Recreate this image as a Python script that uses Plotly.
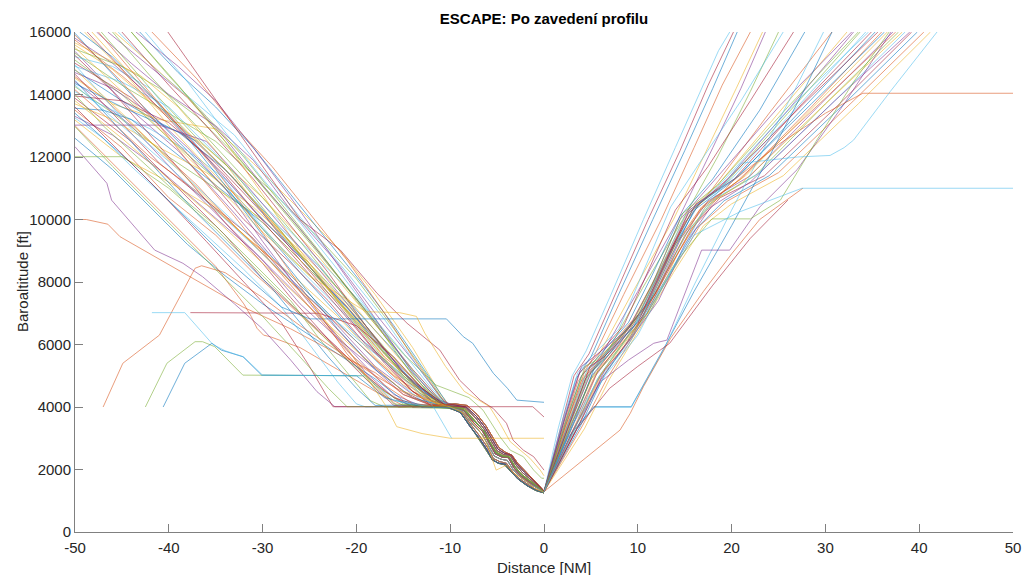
import plotly.graph_objects as go

# MATLAB default colour order
line_colors = ['#0072BD', '#D95319', '#EDB120', '#7E2F8E', '#77AC30', '#4DBEEE', '#A2142F']

# ---------------- data (distance [NM], baroaltitude [ft]) ----------------
# final-approach segments read from the dense bundle (upper edge .. lower edge)
tail_1 = [[-9.5, 4100], [-8.2, 4050], [-7.1, 3750], [-6.2, 3400], [-5.4, 3000], [-4.8, 2700], [-4.1, 2550],
          [-3.4, 2450], [-2.8, 2200], [-2.0, 1950], [-1.1, 1700], [-0.5, 1480], [0, 1310]]
tail_2 = [[-10, 4050], [-8.4, 3980], [-7.3, 3650], [-6.4, 3300], [-5.6, 2900], [-5.0, 2600], [-4.3, 2480],
          [-3.6, 2450], [-3.0, 2150], [-2.3, 1900], [-1.3, 1650], [-0.6, 1460], [0, 1300]]
tail_3 = [[-10, 4020], [-8.5, 3950], [-7.4, 3580], [-6.5, 3250], [-5.7, 2850], [-5.1, 2560], [-4.4, 2440],
          [-3.7, 2410], [-3.1, 2100], [-2.4, 1850], [-1.4, 1620], [-0.6, 1440], [0, 1295]]
tail_4 = [[-10, 4000], [-8.6, 3900], [-7.5, 3500], [-6.5, 3200], [-5.8, 2800], [-5.2, 2500], [-4.5, 2400],
          [-3.8, 2380], [-3.2, 2050], [-2.5, 1800], [-1.5, 1580], [-0.7, 1420], [0, 1290]]
tail_5 = [[-10, 3990], [-8.7, 3870], [-7.6, 3450], [-6.6, 3130], [-5.9, 2750], [-5.3, 2430], [-4.6, 2330],
          [-3.9, 2290], [-3.3, 2000], [-2.5, 1750], [-1.5, 1540], [-0.7, 1390], [0, 1280]]
tail_6 = [[-10, 4000], [-8.8, 3850], [-7.7, 3400], [-6.8, 3050], [-6.0, 2700], [-5.4, 2350], [-4.7, 2250],
          [-4.0, 2200], [-3.4, 1950], [-2.6, 1700], [-1.6, 1500], [-0.8, 1350], [0, 1260]]
tail_7 = [[-10, 3950], [-9, 3850], [-8, 3450], [-7.1, 3050], [-6.3, 2700], [-5.6, 2350], [-4.9, 2200],
          [-4.2, 2150], [-3.6, 1950], [-2.8, 1700], [-1.8, 1480], [-0.9, 1330], [0, 1250]]
tail_8 = [[-9.8, 4080], [-8.3, 4000], [-7.2, 3700], [-6.3, 3350], [-5.5, 2950], [-4.9, 2650], [-4.2, 2520],
          [-3.5, 2470], [-2.9, 2180], [-2.1, 1920], [-1.2, 1680], [-0.5, 1470], [0, 1305]]
tail_9 = [[-10, 3970], [-8.9, 3820], [-7.9, 3380], [-6.9, 3000], [-6.1, 2650], [-5.5, 2300], [-4.8, 2200],
          [-4.1, 2170], [-3.5, 1930], [-2.7, 1680], [-1.7, 1470], [-0.8, 1330], [0, 1255]]
tail_10 = [[-10, 4010], [-8.6, 3920], [-7.4, 3550], [-6.4, 3230], [-5.7, 2820], [-5.1, 2520], [-4.4, 2420],
           [-3.7, 2390], [-3.1, 2080], [-2.4, 1820], [-1.4, 1600], [-0.6, 1430], [0, 1285]]

arrivals_edge = [
    [[-50, 15960], [-44, 14000], [-38, 12200], [-32, 10400], [-26, 8300], [-20, 6300], [-15, 5000], [-11, 4100]],
    [[-50, 15740], [-45, 14600], [-40, 13300], [-34, 11600], [-28, 9600], [-22, 7400], [-17, 5600], [-12, 4300]],
    [[-50, 15580], [-46, 14800], [-41, 13500], [-36, 12300], [-30, 10700], [-24, 8800], [-19, 7000], [-14, 5200], [-11, 4200]],
    [[-50, 15380], [-44, 13500], [-39, 12200], [-33, 10200], [-27, 8100], [-22, 6600], [-18, 5300], [-14, 4400], [-11, 4050]],
    [[-50, 15320], [-45, 14300], [-40, 13400], [-35, 12500], [-29, 10900], [-24, 9400], [-20, 8100], [-16, 6500], [-12, 4800], [-10.5, 4100]],
    [[-50, 15210], [-46, 14900], [-42, 14200], [-36, 12000], [-31, 10100], [-26, 8400], [-21, 6900], [-16, 5400], [-12, 4300]],
    [[-50, 15000], [-44, 13900], [-38, 12100], [-32, 10000], [-27, 8600], [-23, 7400], [-19, 6000], [-15, 4900], [-11, 4100]],
    [[-50, 14780], [-45, 13800], [-41, 13100], [-37, 12500], [-33, 11300], [-28, 9500], [-23, 7800], [-18, 6200], [-14, 4800], [-11, 4100]],
    [[-50, 14570], [-47, 13900], [-42, 12500], [-37, 11100], [-33, 9800], [-28, 8300], [-24, 7200], [-20, 6100], [-16, 5000], [-12, 4200]],
    [[-50, 14520], [-46, 13700], [-41, 13200], [-35, 12900], [-31, 11800], [-27, 10600], [-22, 9100], [-18, 7600], [-14, 5900], [-11, 4400]],
    [[-50, 14410], [-44, 13000], [-39, 11400], [-34, 9900], [-30, 8700], [-26, 7300], [-22, 6200], [-18, 5200], [-15, 4400], [-12, 4050]],
    [[-50, 14250], [-45, 13200], [-40, 12000], [-35, 11000], [-30, 10000], [-25, 8600], [-21, 7300], [-17, 5900], [-13, 4600], [-10.5, 4050]],
    [[-50, 14090], [-46, 13500], [-42, 12900], [-38, 12200], [-34, 11300], [-29, 9700], [-24, 8200], [-20, 6700], [-15, 5100], [-11, 4100]],
    [[-50, 13880], [-44, 12500], [-39, 11000], [-34, 9500], [-30, 8100], [-26, 7000], [-22, 5900], [-19, 5000], [-16, 4300], [-13, 4000]],
    [[-50, 13560], [-47, 13500], [-44, 13200], [-40, 12300], [-35, 11100], [-30, 9900], [-25, 8400], [-21, 7200], [-17, 5700], [-13, 4500], [-10.5, 4050]],
    [[-50, 13500], [-45, 12300], [-40, 10700], [-35, 9500], [-31, 8300], [-28, 7500], [-24, 6400], [-20, 5300], [-17, 4500], [-14, 4000]],
    [[-50, 13180], [-45, 12000], [-40, 11200], [-35, 10300], [-30, 9000], [-26, 8000], [-22, 6900], [-18, 5600], [-14, 4500], [-11.5, 4050]],
    [[-50, 15800], [-46, 15000], [-41, 13700], [-36, 12000], [-31, 10300], [-26, 8800], [-21, 7200], [-17, 5800], [-13, 4600], [-10.5, 4050]],
    [[-50, 15100], [-45, 14000], [-40, 12600], [-35, 11300], [-30, 9700], [-25, 8200], [-20, 6800], [-16, 5400], [-12.5, 4300]],
    [[-50, 14900], [-45, 14400], [-40, 13600], [-35, 12100], [-30, 10500], [-25, 9000], [-20, 7500], [-16, 6100], [-12, 4600], [-10.5, 4100]],
    [[-50, 14650], [-46, 13400], [-41, 11800], [-36, 10600], [-31, 9400], [-27, 8000], [-23, 6800], [-19, 5500], [-15, 4500], [-12, 4050]],
    [[-50, 14350], [-45, 13600], [-39, 12800], [-34, 11600], [-29, 10000], [-24, 8500], [-20, 7100], [-16, 5800], [-12.5, 4500], [-10.5, 4050]],
    [[-50, 14150], [-46, 13100], [-42, 12000], [-37, 10900], [-32, 9500], [-27, 8200], [-23, 7000], [-19, 5800], [-15, 4700], [-12, 4100]],
    [[-50, 13700], [-46, 13200], [-41, 12300], [-36, 11500], [-31, 10400], [-26, 9000], [-21, 7500], [-17, 6100], [-13, 4700], [-10.5, 4050]],
    [[-50, 13300], [-46, 12700], [-41, 11600], [-36, 10300], [-31, 9000], [-27, 7800], [-23, 6600], [-19, 5300], [-16, 4400], [-13, 4020]],
    [[-50, 15450], [-45, 14900], [-41, 14200], [-37, 13300], [-33, 12100], [-28, 10400], [-23, 8600], [-18, 6700], [-14, 5000], [-11, 4100]],
    [[-50, 14950], [-44, 12900], [-39, 11600], [-34, 10200], [-29, 8800], [-24, 7300], [-20, 6100], [-16, 4900], [-13, 4200]],
    [[-50, 13950], [-45, 13800], [-40, 13100], [-35, 11800], [-30, 10200], [-26, 8700], [-22, 7300], [-18, 5800], [-14, 4500], [-11, 4050]],
    [[-50, 12600], [-46, 11600], [-42, 10400], [-38, 9200], [-34, 8200], [-30, 7300], [-26, 6500], [-22, 5700], [-18, 4900], [-15, 4200], [-12, 4000]],
    [[-50, 13000], [-45, 11500], [-40, 10000], [-35, 8500], [-32, 7300], [-31.2, 6890], [-30.6, 6520], [-29.9, 6300], [-29.2, 6250], [-26, 5900], [-22, 5200], [-18, 4500], [-15, 4050]],
    [[-50, 15650], [-47, 15200], [-43, 14600], [-39, 13600], [-35, 12200], [-31, 10600], [-27, 9200], [-23, 7800], [-19, 6400], [-15, 5000], [-11.5, 4100]],
    [[-50, 14700], [-46, 14200], [-42, 13400], [-38, 12300], [-34, 11000], [-30, 9300], [-26, 7700], [-22, 6200], [-19, 5100], [-16, 4300], [-14, 4000]],
    [[-50, 14000], [-47, 13000], [-43, 11900], [-39, 10800], [-35, 9800], [-31, 8600], [-27, 7400], [-24, 6200], [-21, 5100], [-18.5, 4200], [-17, 4000]],
    [[-50, 13250], [-47, 12600], [-44, 11700], [-40, 10600], [-36, 9500], [-32, 8400], [-28, 7200], [-25, 6000], [-22, 4800], [-20, 4100], [-19, 4000]],
    [[-50, 15250], [-46, 14100], [-42, 12700], [-38, 11300], [-34, 9900], [-30, 8600], [-27, 7500], [-24, 6500], [-21, 5500], [-18, 4600], [-16, 4050]],
    [[-50, 14450], [-45, 12800], [-41, 11500], [-37, 10200], [-33, 9000], [-29, 7800], [-26, 6700], [-23, 5600], [-20, 4600], [-18, 4050]],
    [[-50, 15900], [-45, 14400], [-41, 13000], [-37, 11500], [-33, 10100], [-29, 8600], [-25, 7200], [-21, 5800], [-17, 4700], [-14, 4100]],
]

arrivals_top = [
    [[-48.2, 16000], [-43, 14300], [-38, 12800], [-33, 11300], [-28, 9600], [-23, 7900], [-18, 6200], [-14, 4900], [-11, 4100]],
    [[-47.7, 16000], [-44, 15000], [-40, 14000], [-35, 13000], [-31, 11900], [-27, 10300], [-22, 8600], [-18, 7000], [-14, 5500], [-11, 4300]],
    [[-47.2, 16000], [-42, 14200], [-37, 12600], [-33, 11500], [-29, 10000], [-25, 8500], [-21, 7000], [-17, 5500], [-13, 4400]],
    [[-45.4, 16000], [-41, 14700], [-37, 13700], [-33, 12700], [-29, 11200], [-25, 9700], [-21, 8300], [-17, 6800], [-13, 5100], [-10.5, 4100]],
    [[-45.0, 16000], [-40, 14300], [-36, 13000], [-31, 11300], [-27, 9800], [-23, 8300], [-19, 6600], [-15, 5100], [-11, 4100]],
    [[-43.1, 16000], [-39, 14700], [-35, 13600], [-31, 12300], [-27, 10800], [-23, 9300], [-19, 7800], [-16, 6600], [-13, 5300], [-10.5, 4200]],
    [[-41.8, 16000], [-37, 14500], [-33, 13000], [-29, 11700], [-25, 10200], [-21, 8700], [-17, 7000], [-14, 5600], [-11, 4300]],
    [[-49.0, 16000], [-45, 14800], [-40, 13000], [-35, 11400], [-30, 9900], [-25, 8400], [-21, 7100], [-17, 5700], [-13, 4500], [-11, 4050]],
    [[-46.5, 16000], [-42, 14900], [-38, 13900], [-34, 12600], [-30, 11100], [-26, 9700], [-22, 8200], [-18, 6700], [-14, 5200], [-11, 4200]],
    [[-44.0, 16000], [-40, 14600], [-36, 13300], [-32, 12000], [-28, 10500], [-24, 9000], [-20, 7400], [-16, 5900], [-12.5, 4600], [-10.5, 4100]],
    [[-42.5, 16000], [-38, 14400], [-34, 12800], [-30, 11300], [-26, 9900], [-22, 8400], [-18, 6800], [-14.5, 5300], [-11.5, 4300]],
    [[-48.7, 16000], [-44, 14500], [-39, 12900], [-34, 11400], [-29, 9600], [-24, 7900], [-20, 6500], [-17, 5400], [-14, 4500], [-12, 4050]],
    [[-49.5, 16000], [-46, 15200], [-42, 14000], [-38, 12600], [-34, 11100], [-30, 9500], [-26, 8000], [-22, 6500], [-18, 5200], [-14, 4300], [-11, 4050]],
    [[-47.5, 16000], [-43, 14400], [-39, 13000], [-35, 11600], [-31, 10000], [-27, 8300], [-24, 7000], [-21, 5700], [-18, 4700], [-15.5, 4000]],
    [[-45.8, 16000], [-42, 15000], [-38, 13900], [-34, 12500], [-30, 10800], [-26, 9000], [-22, 7400], [-19, 6300], [-16, 5200], [-13, 4300], [-11, 4050]],
    [[-43.5, 16000], [-39, 14900], [-35, 13800], [-31, 12300], [-27, 10700], [-23, 9000], [-20, 7700], [-17, 6400], [-14, 5100], [-11.5, 4300]],
    [[-46.0, 16000], [-42, 14600], [-38, 13300], [-34, 12000], [-30, 10700], [-26, 9300], [-22, 7800], [-18, 6200], [-15, 5000], [-12, 4200]],
]

# individual arrivals with distinctive shapes (own colour each)
arrival_special = [
    [[-50, 10000], [-48.8, 10000], [-46.5, 9850], [-45.2, 9450], [-32.1, 7200], [-27, 6500], [-22, 5700], [-18, 5100], [-15, 4400], [-12, 4050]] + tail_6,
    [[-50, 12330], [-46.6, 11160], [-46.1, 10620], [-44.3, 9980], [-41.5, 9020], [-38.5, 8600], [-36.4, 8170], [-33, 7300], [-30, 6500], [-27, 5500], [-24.2, 4490], [-22.3, 4010], [-10, 4010]] + tail_4,
    [[-50, 13020], [-41, 13020], [-36, 12500], [-32, 11200], [-28, 9800], [-24, 8400], [-19, 6600], [-15, 5100], [-12, 4200]] + tail_2,
    [[-50, 12010], [-44.9, 12010], [-40, 11000], [-35, 9700], [-30, 8200], [-26, 7000], [-22, 5800], [-18, 4700], [-15, 4100]] + tail_7,
    [[-47, 4000], [-44.9, 5400], [-41, 6300], [-37.2, 8440], [-36.5, 8520], [-34, 8300], [-30, 7500], [-26, 6600], [-22, 5800], [-18, 5000], [-14, 4300], [-11.5, 4050]] + tail_1,
    [[-42.5, 4000], [-40.2, 5400], [-37.2, 6090], [-36.4, 6090], [-35.1, 5930], [-32.1, 5020], [-19.3, 5000], [-16, 4100], [-12, 4000]] + tail_3,
    [[-40.6, 4000], [-38.3, 5400], [-35.4, 6040], [-34.4, 5820], [-32.1, 5610], [-30.1, 5020], [-20, 5000], [-17, 4300], [-13, 4000]] + tail_9,
    [[-41.8, 7020], [-38.3, 7020], [-35.3, 6000], [-34, 5800], [-32, 5600], [-30, 5020], [-19, 5000], [-16, 4200], [-12, 4000]] + tail_5,
    [[-37.7, 7020], [-24, 7000], [-20, 6600], [-16, 5600], [-13, 4600], [-10.5, 4050]] + tail_8,
    [[-50, 13400], [-44, 11800], [-38, 10000], [-33, 8500], [-28, 7200], [-25, 6820], [-10.4, 6820], [-8.6, 6250], [-7.6, 6040], [-5.4, 5080], [-3.9, 4600], [-2.9, 4220], [0, 4150]],
    [[-40.1, 16000], [-26, 10000], [-21.7, 9020], [-17.8, 7640], [-14.6, 6680], [-11.1, 5820], [-9, 4860], [-6.8, 4220], [-5.4, 3950], [-4.0, 3480], [-3.3, 2940], [-2.2, 2620], [-1.1, 2410], [-0.4, 2140], [0, 1980]],
    [[-50, 14800], [-45, 13400], [-40, 11900], [-35, 10400], [-30, 8900], [-25, 7400], [-21, 5900], [-18.5, 4800], [-16.8, 4010], [-15.7, 3370], [-13, 3150], [-10, 3000], [0, 3000]],
    [[-50, 15500], [-45, 14100], [-40, 12600], [-35, 11100], [-30, 9600], [-25, 8200], [-19, 7050], [-15.4, 7020], [-13.6, 6900], [-12.7, 6360], [-10.5, 5300], [-8.5, 4500], [-5.8, 4010], [-4.7, 3480], [-3.6, 2890], [-1.5, 2360], [-0.4, 1980], [0, 1800]],
    [[-50, 14300], [-45, 13000], [-40, 11700], [-35, 10300], [-30, 8900], [-25, 7500], [-20, 6200], [-16, 5200], [-13.5, 4500], [-11.8, 4010], [-9.85, 3000]],
    [[-44, 16000], [-39, 14300], [-34, 12500], [-29, 10700], [-24, 8900], [-19, 7100], [-15, 5700], [-11.5, 4700], [-8, 4300], [-6.5, 3900], [-4.7, 3050], [-3.6, 2620], [-2.2, 2410], [-1.1, 1980], [-0.25, 1720], [0, 1720]],
    [[-50, 13600], [-46, 12400], [-41, 10900], [-36, 9300], [-32, 8000], [-28, 6700], [-25, 5300], [-22.5, 4010], [-1.2, 4010], [0, 3680]],
    [[-50, 12970], [-46, 11700], [-42, 10500], [-38, 9300], [-34, 8100], [-30, 6900], [-26, 5600], [-23, 4600], [-21, 4010], [-10, 4010]] + tail_10,
    [[-50, 13800], [-45, 12600], [-40, 11300], [-35, 10000], [-30, 8600], [-25, 7200], [-20, 5800], [-15, 4500], [-10, 4000], [-8.5, 3800], [-7, 3300], [-6.1, 2830], [-5.1, 1980], [-4, 2140], [-3.3, 1900], [-2, 1650], [-1, 1400], [0, 1270]],
]
arrival_special_colors = ['#D95319', '#7E2F8E', '#7E2F8E', '#77AC30', '#D95319', '#77AC30', '#0072BD', '#4DBEEE', '#A2142F',
                          '#0072BD', '#A2142F', '#EDB120', '#EDB120', '#4DBEEE', '#77AC30', '#A2142F', '#77AC30', '#EDB120']

departures_steep = [
    [[0, 1290], [1.5, 3300], [3, 5000], [4.5, 5800], [7, 7500], [10.6, 10000], [14, 12300], [17, 14300], [18.6, 15400], [19.8, 16000]],
    [[0, 1290], [1.7, 3300], [3.2, 5000], [4.8, 5700], [7.3, 7400], [11.1, 10000], [14.5, 12200], [17.5, 14300], [20.2, 16000]],
    [[0, 1290], [1.8, 3200], [3.4, 4900], [5, 5600], [7.8, 7500], [11.6, 10000], [15, 12200], [18, 14200], [20.6, 16000]],
    [[0, 1290], [2, 3300], [3.6, 4800], [5.3, 5600], [8.5, 7600], [12.5, 10000], [16, 12300], [19, 14300], [22, 16000]],
    [[0, 1290], [2.1, 3200], [3.9, 4800], [5.7, 5600], [9.5, 7700], [13.8, 10000], [17.5, 12300], [20.5, 14200], [23.3, 16000]],
    [[0, 1290], [2.3, 3400], [4.2, 4900], [6, 5600], [10, 7700], [14.3, 10000], [18, 12300], [21, 14200], [23.6, 16000]],
    [[0, 1290], [2.4, 3300], [4.4, 4900], [6.3, 5500], [10.5, 7800], [14.8, 10000], [18.5, 12000], [22, 14100], [25, 16000]],
]

departures_main = [
    [[0, 1290], [2, 3600], [3.6, 5100], [5, 5600], [8, 6500], [10.5, 8300], [13.5, 10400], [17, 12000], [21, 13800], [25.5, 16000]],
    [[0, 1290], [2.1, 3500], [3.8, 5100], [5.2, 5500], [8.5, 6600], [11, 8300], [14, 10300], [17.5, 11700], [22, 13800], [26.6, 16000]],
    [[0, 1290], [2.3, 3500], [4, 5000], [5.5, 5500], [9, 6700], [11.5, 8200], [14.5, 10100], [18, 11300], [23, 13500], [27.8, 16000]],
    [[0, 1290], [2.5, 3600], [4.3, 5100], [5.8, 5500], [9.5, 6800], [12, 8200], [15, 9900], [18, 11000], [24, 13400], [30.7, 16000]],
    [[0, 1290], [2.4, 3400], [4.4, 5000], [6, 5500], [9.8, 6800], [12.5, 8500], [15.2, 10200], [18.5, 11100], [25, 13400], [32.3, 16000]],
    [[0, 1290], [2.6, 3500], [4.6, 5000], [6.2, 5600], [10, 6900], [12.8, 8600], [15.5, 10300], [19, 11100], [26, 13500], [33, 16000]],
    [[0, 1290], [2.5, 3300], [4.7, 5000], [6.5, 5700], [10.2, 7000], [13, 8700], [15.8, 10300], [19.5, 11200], [26, 13400], [33.7, 16000]],
    [[0, 1290], [2.7, 3400], [4.8, 5000], [6.8, 5800], [10.5, 7100], [13.3, 8800], [16, 10400], [20, 11300], [27, 13600], [34.3, 16000]],
    [[0, 1290], [2.8, 3500], [5, 5100], [7, 5800], [10.7, 7200], [13.5, 9000], [16.2, 10500], [20.3, 11300], [27.5, 13700], [34.9, 16000]],
    [[0, 1290], [2.9, 3400], [5.1, 5000], [7.2, 5800], [11, 7300], [13.8, 9100], [16.5, 10500], [20.8, 11400], [28, 13700], [35.3, 16000]],
    [[0, 1290], [3, 3500], [5.2, 5000], [7.5, 5900], [11.2, 7400], [14, 9200], [16.8, 10400], [21, 11300], [28.5, 13600], [36, 16000]],
    [[0, 1290], [3.1, 3400], [5.4, 5000], [7.8, 5900], [11.5, 7500], [14.3, 9300], [17.2, 10500], [21.5, 11400], [29, 13700], [36.6, 16000]],
    [[0, 1290], [3.2, 3500], [5.5, 5000], [8, 6000], [11.8, 7600], [14.6, 9400], [17.5, 10600], [22, 11400], [29.5, 13700], [37.2, 16000]],
    [[0, 1290], [3.4, 3400], [5.7, 4900], [8.3, 6000], [12, 7700], [15, 9500], [18, 10600], [22.5, 11400], [30, 13700], [37.8, 16000]],
    [[0, 1290], [3.5, 3500], [5.9, 5000], [8.6, 6100], [12.3, 7900], [15.3, 9600], [18.4, 10700], [23, 11500], [31, 13800], [38.5, 16000]],
    [[0, 1290], [3.7, 3400], [6.1, 4900], [8.9, 6100], [12.6, 8000], [15.7, 9700], [18.8, 10700], [23.5, 11400], [31.5, 13700], [39.2, 16000]],
    [[0, 1290], [3.9, 3400], [6.4, 5000], [9.2, 6200], [13, 8100], [16.2, 9700], [19.2, 10600], [24, 11400], [32, 13700], [39.8, 16000]],
    [[0, 1290], [4.1, 3400], [6.7, 4900], [9.6, 6300], [13.4, 8200], [16.6, 9800], [19.6, 10600], [25, 11500], [33, 13800], [40.5, 16000]],
    [[0, 1290], [4.3, 3300], [7, 4900], [10, 6400], [13.8, 8300], [17, 9800], [20, 10500], [25.5, 11400], [33.5, 13700], [41.2, 16000]],
    [[0, 1290], [2.2, 3700], [4, 5300], [5.3, 5600], [9, 6500], [11.5, 7900], [14.5, 10000], [18, 11200], [25, 13600], [32.8, 16000]],
    [[0, 1290], [2.6, 3800], [4.4, 5300], [5.6, 5500], [9.3, 6600], [11.8, 8100], [14.8, 10200], [18.5, 11100], [26, 13600], [33.5, 16000]],
    [[0, 1290], [2.8, 3600], [4.6, 5200], [6, 5500], [9.6, 6600], [12.2, 8300], [15, 10100], [19, 11200], [27, 13800], [34.6, 16000]],
    [[0, 1290], [3, 3700], [4.9, 5300], [6.4, 5600], [10, 6700], [12.6, 8400], [15.4, 10200], [19.6, 11300], [28, 13800], [35.6, 16000]],
    [[0, 1290], [3.3, 3600], [5.3, 5200], [7, 5700], [10.5, 6900], [13.2, 8600], [16, 10300], [20, 11200], [28.5, 13700], [36.3, 16000]],
    [[0, 1290], [3.6, 3600], [5.8, 5200], [7.6, 5800], [11, 7000], [13.8, 8800], [16.6, 10300], [20.5, 11200], [29, 13600], [37.5, 16000]],
    [[0, 1290], [3.8, 3500], [6.2, 5100], [8.2, 5900], [11.6, 7200], [14.4, 9000], [17.2, 10400], [21.2, 11200], [30, 13700], [38.2, 16000]],
    [[0, 1290], [4, 3600], [6.5, 5200], [8.8, 6000], [12.2, 7400], [15, 9200], [17.8, 10400], [22, 11200], [31, 13800], [39, 16000]],
]

departure_special = [
    [[0, 1290], [2.5, 3000], [5.3, 4010], [9.3, 4010], [13, 6000], [16, 7700], [20, 9800], [24, 12000], [28, 14300], [30.7, 16000]],
    [[0, 1290], [3, 3100], [5.3, 3990], [9.3, 3990], [12.7, 5800], [16, 7900], [20, 10300], [23, 12000], [27, 14300], [29.8, 16000]],
    [[0, 1290], [8.1, 3260], [9.2, 3800], [10.6, 4650], [13.5, 6200], [17, 7700], [20, 8900], [23, 10000], [27.6, 11000]],
    [[0, 1290], [3.5, 3300], [7, 4600], [10, 5300], [13.4, 6040], [18, 7900], [22, 9400], [26, 10620]],
    [[0, 1290], [3, 3200], [6, 4800], [9, 5500], [11.7, 6040], [13.1, 6140], [16.8, 9020], [19.8, 9020], [23, 10400], [27, 11600], [32, 13700], [37, 16000]],
    [[0, 1290], [2.8, 3400], [5, 4900], [7.5, 5700], [11, 7000], [14.5, 8800], [17.9, 10020], [22, 10020], [25.2, 10620], [29, 12500], [33, 14400], [36.8, 16000]],
    [[0, 1290], [3.2, 3500], [5.8, 4900], [9, 6000], [12.5, 7800], [16, 9500], [20.9, 10250], [27.5, 11000], [50, 11000]],
    [[0, 1290], [3.4, 3400], [6, 5000], [9.5, 6300], [13, 8300], [16.5, 10000], [20, 11200], [25, 12400], [30, 13400], [34, 14040], [50, 14040]],
    [[0, 1290], [3.6, 3500], [6.5, 5000], [10, 6300], [14, 8600], [17, 10300], [21, 11800], [27, 12000], [30.5, 12050], [32, 12300], [33, 12540], [36.9, 14090], [41.9, 16000]],
]
departure_special_colors = ['#0072BD', '#4DBEEE', '#D95319', '#A2142F', '#7E2F8E', '#77AC30', '#4DBEEE', '#D95319', '#4DBEEE']

x_ticks = [-50, -40, -30, -20, -10, 0, 10, 20, 30, 40, 50]
y_ticks = [0, 2000, 4000, 6000, 8000, 10000, 12000, 14000, 16000]

# ---------------- assemble ----------------
tails = [tail_1, tail_4, tail_7, tail_2, tail_5, tail_8, tail_3, tail_6, tail_9, tail_10]
tracks = []
for i, tr in enumerate(arrivals_edge + arrivals_top):
    tracks.append((tr + tails[i % len(tails)], None))
for tr in departures_steep + departures_main:
    tracks.append((tr, None))
for tr, c in zip(arrival_special, arrival_special_colors):
    tracks.append((tr, c))
for tr, c in zip(departure_special, departure_special_colors):
    tracks.append((tr, c))

fig = go.Figure()
k = 0
for pts, col in tracks:
    color = col if col else line_colors[k % len(line_colors)]
    k += 1
    fig.add_trace(go.Scatter(
        x=[p[0] for p in pts], y=[p[1] for p in pts],
        mode='lines', line=dict(color=color, width=0.8),
        opacity=0.7, hoverinfo='skip', showlegend=False))

W, H = 1024, 575
ML, MR, MT, MB = 75, 11, 32, 43
axis_font = dict(family='Liberation Sans, Arial, sans-serif', size=15, color='#262626')
axis_common = dict(ticks='inside', ticklen=8, tickwidth=1, tickcolor='#808080', showline=True,
                   linecolor='#808080', linewidth=1, showgrid=False, zeroline=False, mirror=False,
                   tickfont=axis_font, automargin=False, tickmode='array')
fig.update_layout(
    width=W, height=H, autosize=False,
    margin=dict(l=ML, r=MR, t=MT, b=MB, pad=0),
    paper_bgcolor='white', plot_bgcolor='white',
    showlegend=False,
    title=dict(text='<b>ESCAPE: Po zavedení profilu</b>', x=0.5, xanchor='center', xref='paper',
               y=1 - 19 / H, yanchor='middle',
               font=dict(family='Liberation Sans, Arial, sans-serif', size=15, color='black')),
    xaxis=dict(range=[-50, 50], tickvals=x_ticks, ticktext=[str(v) for v in x_ticks],
               ticklabelstandoff=2, **axis_common),
    yaxis=dict(range=[0, 16000], tickvals=y_ticks, ticktext=[str(v) for v in y_ticks], **axis_common),
    annotations=[
        dict(text='Distance [NM]', x=0.5, xref='paper', y=-(567 - (H - MB)) / (H - MT - MB), yref='paper',
             yanchor='middle', xanchor='center', showarrow=False, font=axis_font),
        dict(text='Baroaltitude [ft]', x=(22 - ML) / (W - ML - MR), xref='paper', y=0.5, yref='paper',
             showarrow=False, textangle=-90, font=axis_font, xanchor='center', yanchor='middle'),
    ],
)
fig.write_html('out.html')
